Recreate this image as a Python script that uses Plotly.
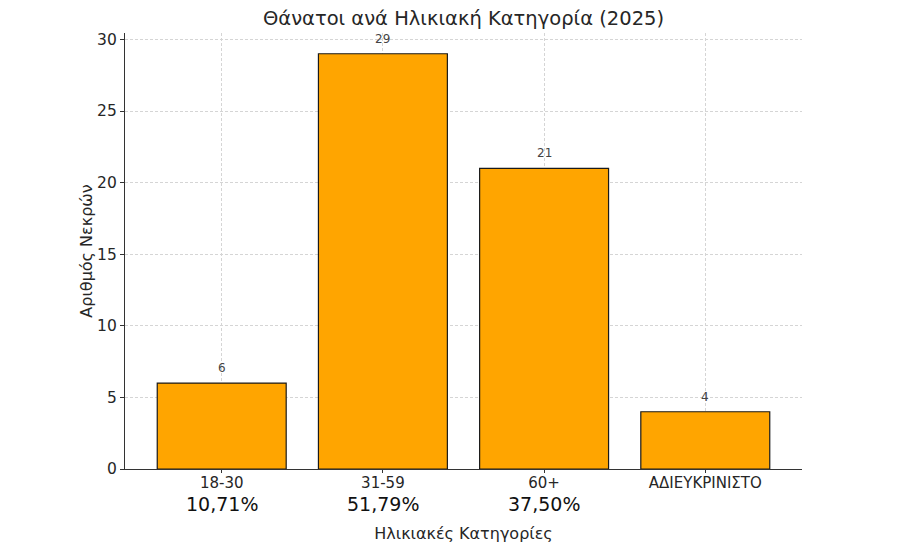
import plotly.graph_objects as go

categories = ["18-30", "31-59", "60+", "ΑΔΙΕΥΚΡΙΝΙΣΤΟ"]
deaths = [6, 29, 21, 4]
percent_labels = ["10,71%", "51,79%", "37,50%", ""]
y_ticks = [0, 5, 10, 15, 20, 25, 30]

FONT = "DejaVu Sans"
TXT = "#262626"
GRID = "#d5d5d5"

fig = go.Figure()
fig.add_trace(go.Bar(
    x=categories, y=deaths,
    marker=dict(color="#FFA500", line=dict(color="#1a1a1a", width=1.2)),
    width=0.8,
    cliponaxis=False,
))

for cat, v in zip(categories, deaths):
    fig.add_annotation(x=cat, y=v, xref="x", yref="y", text=str(v), showarrow=False,
                       yanchor="bottom", yshift=6,
                       font=dict(family=FONT, size=12, color="#444444"))

for cat, lab in zip(categories, percent_labels):
    if lab:
        fig.add_annotation(x=cat, y=0, xref="x", yref="y", text=lab, showarrow=False,
                           yanchor="top", yshift=-22,
                           font=dict(family=FONT, size=19, color="#111111"))

fig.update_layout(
    width=900, height=551,
    paper_bgcolor="white", plot_bgcolor="white",
    margin=dict(l=117, r=106, t=25, b=90, autoexpand=False),
    title=dict(text="Θάνατοι ανά Ηλικιακή Κατηγορία (2025)", x=0.5, xanchor="center",
               y=0.982, yanchor="middle", xref="paper",
               font=dict(family=FONT, size=19.5, color=TXT)),
    font=dict(family=FONT, color=TXT),
    showlegend=False,
)
fig.update_xaxes(
    range=[-0.6, 3.6], showline=True, linecolor="#333333", linewidth=1.2,
    ticks="outside", ticklen=3, tickcolor="#333333",
    ticklabelstandoff=-3,
    tickfont=dict(family=FONT, size=15, color=TXT),
    showgrid=True, gridcolor=GRID, griddash="3px,2px", gridwidth=0.8,
    automargin=False,
    title=dict(text="Ηλικιακές Κατηγορίες", font=dict(family=FONT, size=16, color=TXT), standoff=36),
)
fig.update_yaxes(
    range=[0, 30.45], tickvals=y_ticks, showline=True, linecolor="#333333", linewidth=1.2,
    ticks="outside", ticklen=4, tickcolor="#333333",
    tickfont=dict(family=FONT, size=15.5, color=TXT),
    showgrid=True, gridcolor=GRID, griddash="3px,2px", gridwidth=0.8,
    zeroline=False, automargin=False,
    title=dict(text="Αριθμός Νεκρών", font=dict(family=FONT, size=16, color=TXT), standoff=0),
)

fig.write_html("out.html")
